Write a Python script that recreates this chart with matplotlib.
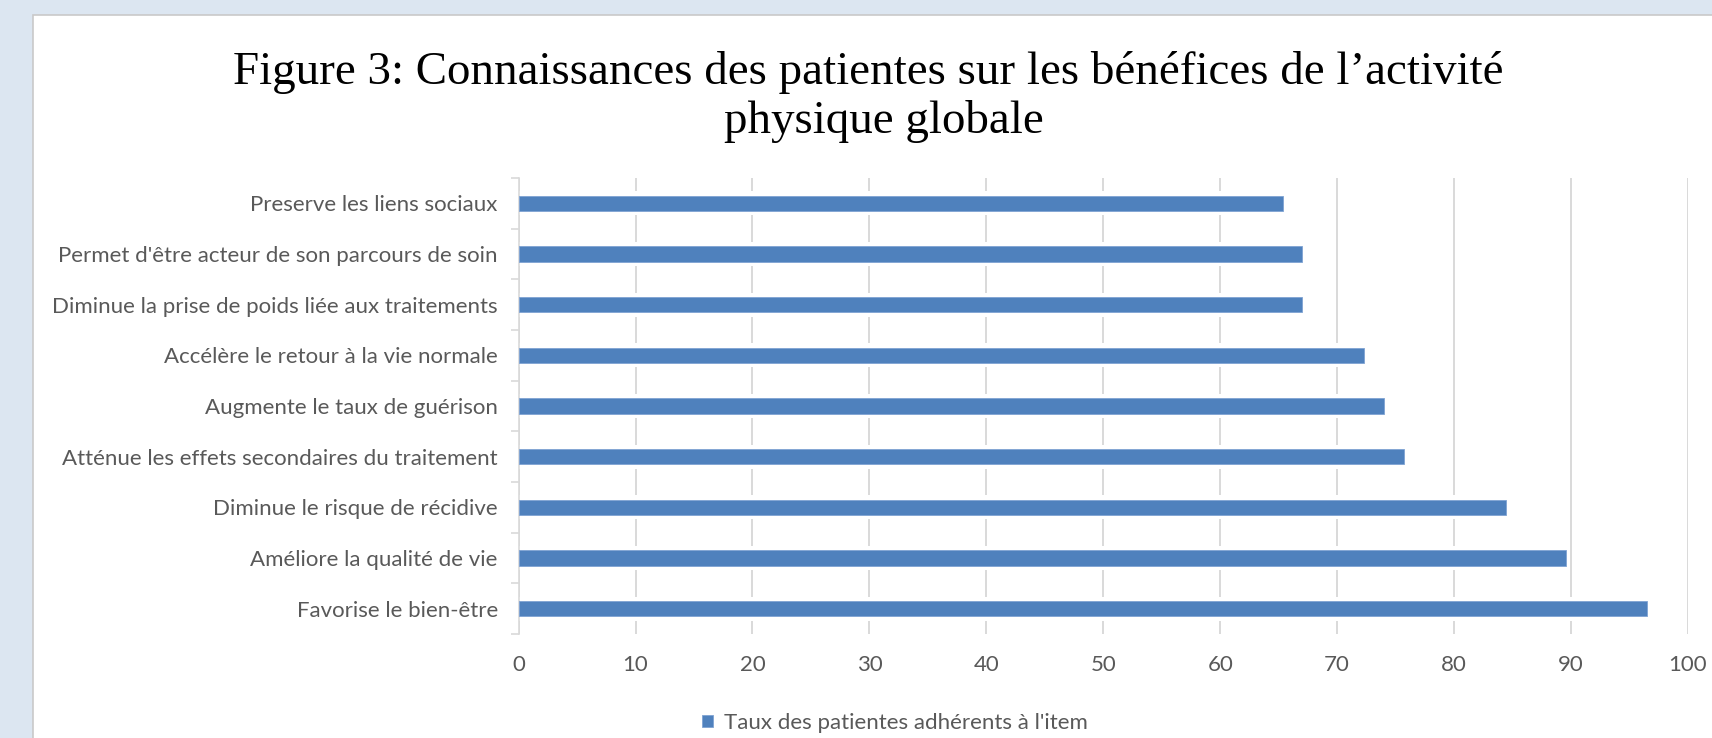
import matplotlib
matplotlib.use('Agg')
import matplotlib.pyplot as plt
from matplotlib.patches import Rectangle
from matplotlib.ticker import MultipleLocator, FixedLocator

# données (de haut en bas)
items = ['Preserve les liens sociaux',
         "Permet d'être acteur de son parcours de soin",
         'Diminue la prise de poids liée aux traitements',
         'Accélère le retour à la vie normale',
         'Augmente le taux de guérison',
         'Atténue les effets secondaires du traitement',
         'Diminue le risque de récidive',
         'Améliore la qualité de vie',
         'Favorise le bien-être']
taux = [65.4, 67.0, 67.0, 72.3, 74.0, 75.7, 84.4, 89.6, 96.5]
serie = "Taux des patientes adhérents à l'item"
titre_1 = 'Figure 3: Connaissances des patientes sur les bénéfices de l’activité'
titre_2 = 'physique globale'

bleu = '#4f81bd'
gris = '#d9d9d9'
texte = '#595959'
sans = ['Lato', 'DejaVu Sans']
taille = 16

W, H = 1712, 738
fig = plt.figure(figsize=(W / 100, H / 100), dpi=100, facecolor='#dce6f1')

# cadre blanc du graphique
fig.patches.append(Rectangle((33 / W, -0.01), 1.0, 1 - 15 / H + 0.01,
                             transform=fig.transFigure, facecolor='white',
                             edgecolor='#c9c9c9', linewidth=1.2, zorder=-1))

fig.text(868 / W, 1 - 84 / H, titre_1, ha='center', va='baseline',
         fontsize=33.8, family='Liberation Serif', color='black')
fig.text(884 / W, 1 - 133 / H, titre_2, ha='center', va='baseline',
         fontsize=33.8, family='Liberation Serif', color='black')

ax = fig.add_axes([518.6 / W, 1 - 634 / H, (1688 - 518.6) / W, (634 - 178) / H])
ax.set_facecolor('none')

pos = list(range(len(items)))
# bande blanche derrière chaque barre (coupe le quadrillage)
ax.barh(pos, taux, height=0.48, color='white', zorder=2)
barres = ax.barh(pos, taux, height=0.3, color=bleu, edgecolor='#7fa3d3',
                 linewidth=0.6, zorder=3, label=serie)

ax.set_xlim(0, 100)
ax.set_ylim(len(items) - 0.5, -0.5)
ax.xaxis.set_major_locator(MultipleLocator(10))
ax.grid(axis='x', color=gris, linewidth=1.4, zorder=1)
ax.set_axisbelow(True)

ax.set_yticks(pos)
ax.set_yticklabels(items)
ax.yaxis.set_minor_locator(FixedLocator([p - 0.5 for p in range(len(items) + 1)]))
ax.tick_params(axis='y', which='major', length=0, pad=15)
ax.tick_params(axis='y', which='minor', length=6, color=gris, width=1.2)
ax.tick_params(axis='x', length=0, pad=15)
for lab in ax.get_yticklabels() + ax.get_xticklabels():
    lab.set_family(sans)
    lab.set_fontsize(taille)
    lab.set_color(texte)

for s in ['top', 'right', 'bottom']:
    ax.spines[s].set_visible(False)
ax.spines['left'].set_color(gris)
ax.spines['left'].set_linewidth(1.2)
ax.spines['left'].set_zorder(2.5)

leg = fig.legend(handles=[barres], labels=[serie], loc='center',
                 bbox_to_anchor=(895 / W, 1 - 723 / H), frameon=False,
                 handlelength=0.5, handleheight=0.5, handletextpad=0.5,
                 prop={'family': sans, 'size': taille})
for t in leg.get_texts():
    t.set_color(texte)

plt.savefig('out.png', dpi=100, facecolor=fig.get_facecolor())
plt.close(fig)
